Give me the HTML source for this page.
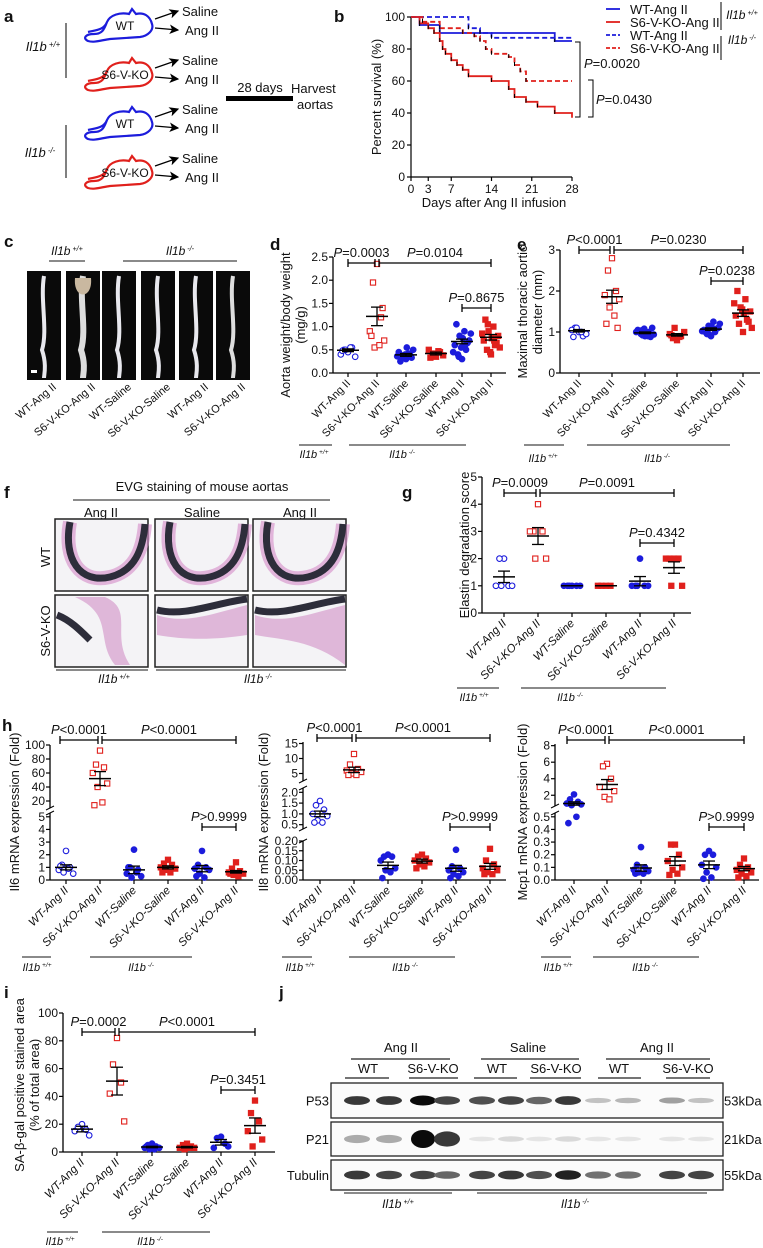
<!DOCTYPE html>
<html><head><meta charset="utf-8">
<style>
html,body{margin:0;padding:0;background:#fff;}
svg{display:block;font-family:"Liberation Sans",Arial,sans-serif;}
text{fill:#111;}
</style></head>
<body>
<svg id="fig" width="763" height="1248" viewBox="0 0 763 1248" xmlns="http://www.w3.org/2000/svg">
<defs>
<marker id="arr" markerWidth="8" markerHeight="8" refX="7" refY="4" orient="auto"><path d="M0,0 L8,4 L0,8 L2,4 Z" fill="#000"/></marker>
</defs>
</svg>
<script>
// ---------- survival data (panel b) ----------
const survDays = {
  wtP: [0,1.5,5,25,28], s6P: [0,1.5,3,4,5,5.5,6,7,8,9,10,14,17,18,20,22,25,28],
  wtK: [0,10,12,14,28], s6K: [0,2,5,9,11,12,13,14,17,18,19,20,28]
};
const survWtPlus = [100,95,90,85,85];
const survS6Plus = [100,96,93,90,85,80,77,73,70,67,63,60,55,50,47,44,40,37];
const survWtKo = [100,93,90,87,87];
const survS6Ko = [100,97,93,90,88,85,80,77,75,70,66,60,60];
const survXTicks = [0,3,7,14,21,28];
const survYTicks = [0,20,40,60,80,100];

// ---------- dot plot data ----------
const groupLabels = ["WT-Ang II","S6-V-KO-Ang II","WT-Saline","S6-V-KO-Saline","WT-Ang II","S6-V-KO-Ang II"];
const dVals = [[0.45,0.5,0.55,0.4,0.35,0.5,0.55,0.48],[2.35,1.95,1.2,0.9,0.7,0.55,0.6,0.8,1.4],[0.3,0.35,0.4,0.45,0.5,0.38,0.42,0.25,0.33,0.4,0.55,0.36],[0.35,0.4,0.45,0.5,0.38,0.42,0.47,0.33],[0.3,0.4,0.5,0.6,0.7,0.8,0.9,1.05,0.65,0.55,0.75,0.45,0.85,0.35,0.6],[0.4,0.5,0.6,0.7,0.8,0.9,1.0,1.15,0.65,0.45,0.75,0.85,0.55,1.05,0.7]];
const dMean = [0.49,1.22,0.39,0.42,0.68,0.77];
const dSem = [0.03,0.2,0.03,0.03,0.05,0.06];
const dTicks = [0,0.5,1.0,1.5,2.0,2.5];
const eVals = [[1.0,1.1,0.9,1.05,0.95,1.1,1.0,0.88],[2.8,2.5,2.0,1.9,1.8,1.6,1.4,1.2,1.1],[0.9,0.95,1.0,1.05,1.1,0.92,0.98,1.02,0.88,1.08,0.96,1.0,0.94,1.04,0.9],[0.8,0.85,0.9,0.95,1.0,1.1,0.88,0.92],[0.9,0.95,1.0,1.05,1.1,1.15,1.25,1.0,1.08,0.92,1.12,1.02,1.2,0.98],[1.0,1.2,1.3,1.4,1.5,1.6,1.8,2.0,1.25,1.55,1.45,1.7,1.1]];
const eMean = [1.03,1.86,0.98,0.93,1.07,1.46];
const eSem = [0.03,0.16,0.02,0.03,0.03,0.08];
const eTicks = [0,1,2,3];
const gVals = [[2,2,1,1,1,1],[4,3,3,3,2,2],[1,1,1,1,1,1],[1,1,1,1],[2,1,1,1,1,1],[2,2,2,2,1,1]];
const gMean = [1.33,2.83,1,1,1.17,1.67];
const gSem = [0.21,0.31,0,0,0.17,0.21];
const gTicks = [0,1,2,3,4,5];
const il6Vals = [[2.3,1.2,1,0.8,0.5,0.6,0.9,1.1],[92,72,68,60,45,40,18,14],[2.4,1,0.8,0.5,0.3,0.2,0.6,1.0],[1.6,1.3,1.2,1,0.9,0.8,0.6,0.6],[2.3,1.2,1,0.9,0.8,0.5,0.2,0.3],[1.4,0.9,0.7,0.6,0.5,0.4,0.3,0.5]];
const il6Mean = [1.0,52,0.8,1.0,0.9,0.65];
const il6Sem = [0.2,10,0.3,0.12,0.25,0.1];
const il6Ticks = [0,1,2,3,4,5,20,40,60,80,100];
const il8Vals = [[1.6,1.4,1.2,1.0,0.9,0.7,0.6,0.6],[11.5,8,6.5,6,5.5,5,4.5,4.5],[0.13,0.12,0.12,0.1,0.06,0.05,0.04,0.01],[0.13,0.12,0.11,0.1,0.09,0.08,0.07,0.06],[0.155,0.07,0.06,0.05,0.04,0.03,0.02,0.01],[0.16,0.1,0.08,0.06,0.05,0.04,0.03,0.03]];
const il8Mean = [1.0,6.2,0.075,0.097,0.06,0.07];
const il8Sem = [0.13,0.9,0.017,0.01,0.015,0.015];
const il8Ticks = [0,0.05,0.1,0.15,0.2,0.5,1.0,1.5,2.0,5,10,15];
const mcpVals = [[2.1,1.5,1.2,1.0,0.9,0.8,0.5,0.45],[5.8,5.5,4,3,2.5,1.8,1.5],[0.26,0.12,0.1,0.08,0.07,0.06,0.05,0.05],[0.28,0.28,0.2,0.15,0.1,0.08,0.05,0.04],[0.23,0.2,0.2,0.12,0.1,0.06,0.02,0.01],[0.17,0.12,0.1,0.08,0.06,0.05,0.03,0.02]];
const mcpMean = [1.0,3.3,0.095,0.15,0.12,0.09];
const mcpSem = [0.2,0.6,0.025,0.035,0.03,0.017];
const mcpTicks = [0,0.1,0.2,0.3,0.4,0.5,2,4,6,8];
const iVals = [[20,18,16,15,12],[82,63,50,42,22],[6,5,4,3,3,2,2,4],[6,5,4,3,3,2,3],[11,10,6,3,4],[37,28,22,15,9,4]];
const iMean = [16.5,51,3.6,3.5,7,19];
const iSem = [2,10,0.5,0.5,2,5.5];
const iTicks = [0,20,40,60,80,100];
// ---------- western blot intensities (panel j) ----------
const p53Int = [0.8,0.8,1,0.75,0.7,0.75,0.6,0.8,0.2,0.25,0.35,0.2];
const p21Int = [0.3,0.3,1,0.8,0.05,0.1,0.05,0.1,0.05,0.05,0.05,0.05];
const tubInt = [0.8,0.75,0.75,0.6,0.75,0.8,0.7,0.9,0.55,0.55,0.75,0.75];

const NS="http://www.w3.org/2000/svg";
const svg=document.getElementById('fig');
function mk(tag,attrs,parent,name,inter){
  const el=document.createElementNS(NS,tag);
  for(const k in attrs) el.setAttribute(k,attrs[k]);
  
  
  (parent||svg).appendChild(el);return el;
}
function txt(x,y,s,size,opt,name){
  opt=opt||{};
  const t=mk('text',{x:x,y:y,'font-size':size,'text-anchor':opt.anchor||'start'},opt.parent,name||'label');
  if(opt.italic) t.setAttribute('font-style','italic');
  if(opt.bold) t.setAttribute('font-weight','bold');
  if(opt.rot!==undefined) t.setAttribute('transform','rotate('+opt.rot+' '+x+' '+y+')');
  if(opt.fill) t.setAttribute('fill',opt.fill);
  t.textContent=s;return t;
}
function il1b(x,y,sup,size){
  const t=mk('text',{x:x,y:y,'font-size':size||12,'font-style':'italic','text-anchor':'middle'},svg,'genotype-label');
  t.textContent='Il1b';
  const s=document.createElementNS(NS,'tspan');s.setAttribute('font-size',(size||12)*0.6);s.setAttribute('dy',-4);s.textContent=' '+sup;t.appendChild(s);
}
function line(x1,y1,x2,y2,w,c,name,dash){
  const l=mk('line',{x1:x1,y1:y1,x2:x2,y2:y2,stroke:c||'#000','stroke-width':w||1},svg,name||'line');
  if(dash) l.setAttribute('stroke-dasharray',dash);return l;
}
function panelLetter(x,y,s){txt(x,y,s,17,{bold:true},'panel-letter-'+s);}

// ---------- panel a ----------
panelLetter(4,22,'a');
function mouse(x,y,col,label){
  const g=mk('g',{transform:'translate('+x+','+y+')'},svg,'mouse-'+label);
  mk('path',{d:'M72,14 C70,6 64,2 56,4 L52,-1 L49,4 C40,2 30,5 27,12 C24,20 22,24 14,24 C6,24 2,28 8,31 C14,33 22,30 30,29 L60,27 C68,26 74,20 72,14 Z M27,12 C24,20 16,20 8,22',fill:'none',stroke:col,'stroke-width':2.2},g,'mouse-outline');
  txt(45,20,label,12,{anchor:'middle',parent:g},'mouse-label');
}
const miceY=[10,59,108,157];
const miceCol=['#1c1cdc','#e0201c','#1c1cdc','#e0201c'];
const miceLab=['WT','S6-V-KO','WT','S6-V-KO'];
for(let i=0;i<4;i++){
  mouse(80,miceY[i],miceCol[i],miceLab[i]);
  const y=miceY[i];
  mk('line',{x1:155,y1:y+9,x2:178,y2:y+1,stroke:'#000','stroke-width':1.2,'marker-end':'url(#arr)'},svg,'arrow');
  mk('line',{x1:155,y1:y+18,x2:178,y2:y+20,stroke:'#000','stroke-width':1.2,'marker-end':'url(#arr)'},svg,'arrow');
  txt(182,y+6,'Saline',13,{},'treatment-label');
  txt(185,y+25,'Ang II',13,{},'treatment-label');
}
line(66,23,66,78,1,'#000','bracket-line');line(66,125,66,178,1,'#000','bracket-line');
il1b(43,51,'+/+',13);il1b(40,157,'-/-',13);
mk('rect',{x:226,y:96,width:67,height:5,fill:'#000'},svg,'timeline-bar');
txt(260,92,'28 days',13,{anchor:'middle'},'timeline-label');
txt(291,93,'Harvest',13,{},'harvest-label');txt(297,109,'aortas',13,{},'harvest-label');

// ---------- panel b ----------
panelLetter(334,22,'b');
const bX0=411,bX1=572,bY0=177,bY1=17;
const bx=d=>bX0+(bX1-bX0)*d/28, by=v=>bY0-(bY0-bY1)*v/100;
line(bX0,bY1,bX0,bY0,1.2);line(bX0,bY0,bX1,bY0,1.2);
survYTicks.forEach(v=>{line(bX0-4,by(v),bX0,by(v),1.2,'#000','y-tick');txt(bX0-6,by(v)+4,String(v),12,{anchor:'end'},'y-tick-label');});
survXTicks.forEach(v=>{line(bx(v),bY0,bx(v),bY0+4,1.2,'#000','x-tick');txt(bx(v),bY0+16,String(v),12,{anchor:'middle'},'x-tick-label');});
txt(381,97,'Percent survival (%)',13,{anchor:'middle',rot:-90},'y-axis-title');
txt(494,207,'Days after Ang II infusion',13,{anchor:'middle'},'x-axis-title');
function step(days,vals,col,dash,name){
  let d='M'+bx(days[0])+','+by(vals[0]);
  for(let i=1;i<days.length;i++){d+=' H'+bx(days[i])+' V'+by(vals[i]);}
  const p=mk('path',{d:d,fill:'none',stroke:col,'stroke-width':1.8},svg,name);
  if(dash)p.setAttribute('stroke-dasharray','5,3');
  for(let i=1;i<days.length-1;i++) line(bx(days[i]),by(vals[i])-3,bx(days[i]),by(vals[i])+1,1,'#000','censor-tick');
}
step(survDays.wtP,survWtPlus,'#1c1cdc',false,'survival-wt-plus');
step(survDays.s6P,survS6Plus,'#e0201c',false,'survival-s6-plus');
step(survDays.wtK,survWtKo,'#1c1cdc',true,'survival-wt-ko');
step(survDays.s6K,survS6Ko,'#e0201c',true,'survival-s6-ko');
mk('path',{d:'M575,42 H580 V117 H575',fill:'none',stroke:'#000'},svg,'pvalue-bracket');
mk('path',{d:'M588,80 H593 V117 H588',fill:'none',stroke:'#000'},svg,'pvalue-bracket');
const pt1=txt(584,68,'',13,{},'pvalue-label');pt1.innerHTML='<tspan font-style="italic">P</tspan>=0.0020';
const pt2=txt(596,104,'',13,{},'pvalue-label');pt2.innerHTML='<tspan font-style="italic">P</tspan>=0.0430';
const legItems=[['WT-Ang II','#1c1cdc',false],['S6-V-KO-Ang II','#e0201c',false],['WT-Ang II','#1c1cdc',true],['S6-V-KO-Ang II','#e0201c',true]];
legItems.forEach((it,i)=>{const y=9+i*13;
  const l=line(606,y,620,y,1.8,it[1],'legend-swatch',it[2]?'4,2':null);
  txt(630,y+5,it[0],13,{},'legend-entry');});
line(721,2,721,30,1);line(721,36,721,60,1);
il1b(742,19,'+/+',12);il1b(742,44,'-/-',12);

// ---------- panel c ----------
panelLetter(4,247,'c');
il1b(67,255,'+/+',12);line(49,261,85,261,1.3,'#444','group-line');
il1b(180,255,'-/-',12);line(123,261,237,261,1.3,'#444','group-line');
const photoX=[27,66,102,141,179,216];
const cLabels=['WT-Ang II','S6-V-KO-Ang II','WT-Saline','S6-V-KO-Saline','WT-Ang II','S6-V-KO-Ang II'];
photoX.forEach((x,i)=>{
  mk('rect',{x:x,y:271,width:34,height:109,fill:'#0a0a0a'},svg,'aorta-photo');
  const cx=x+17;const top=(i==1)?'M'+(cx-8)+',278 C'+(cx-10)+',300 '+(cx+10)+',300 '+(cx+8)+',278 Z':'';
  mk('path',{d:'M'+cx+',276 C'+(cx-4)+',300 '+(cx+4)+',330 '+(cx-2)+',350 C'+(cx+3)+',365 '+cx+',375 '+cx+',378',fill:'none',stroke:(i==1||i==5)?'#ddd':'#e8e8ee','stroke-width':(i==1)?6:4},svg,'aorta');
  if(top) mk('path',{d:top,fill:'#c9b8a0'},svg,'aorta-arch');
  txt(x+30,388,cLabels[i],11,{anchor:'end',rot:-40},'sample-label');
});
mk('rect',{x:31,y:370,width:6,height:3,fill:'#fff'},svg,'scale-bar');

// ---------- generic dot plot ----------
function dotPlot(cfg){
  const segs=cfg.segs;
  const Y=v=>{let s=segs[0];for(const sg of segs){if(v>=sg.lo&&v<=sg.hi){s=sg;break;} if(v>sg.hi) s=sg;}
    return s.y0-(v-s.lo)*(s.y0-s.y1)/(s.hi-s.lo);};
  const ax=cfg.ax;
  segs.forEach(s=>line(ax,s.y0,ax,s.y1,1.3,'#000','y-axis'));
  line(ax,segs[0].y0,cfg.axEnd,segs[0].y0,1.3,'#000','x-axis');
  cfg.ticks.forEach(v=>{const y=Y(v);line(ax-4,y,ax,y,1.2,'#000','y-tick');
    txt(ax-5,y+4,cfg.fmt(v),cfg.tsize||12,{anchor:'end'},'y-tick-label');});
  segs.forEach((s,i)=>{if(i>0){line(ax-4,s.y0+2,ax+4,s.y0-2,1,'#000','axis-break');}
    if(i<segs.length-1){line(ax-4,s.y1+2,ax+4,s.y1-2,1,'#000','axis-break');}});
  const offs=[0,-5,5,-9,9,-3,3,-7,7,-1,1,-11,11,-4,4];
  cfg.cats.forEach((cx,g)=>{
    line(cx,segs[0].y0,cx,segs[0].y0+4,1.2,'#000','x-tick');
    const col=(g%2==0)?'#1c1cdc':'#e0201c';
    const filled=cfg.filled[g];
    cfg.vals[g].forEach((v,k)=>{
      const x=cx+offs[k%offs.length]*cfg.jit,y=Y(v);
      if(g%2==0) mk('circle',{cx:x,cy:y,r:2.8,fill:filled?col:'#fff',stroke:col,'stroke-width':1.1},svg,'data-point');
      else mk('rect',{x:x-2.6,y:y-2.6,width:5.2,height:5.2,fill:filled?col:'#fff',stroke:col,'stroke-width':1.1},svg,'data-point');
    });
    const m=cfg.mean[g],s=cfg.sem[g];
    line(cx-11,Y(m),cx+11,Y(m),1.5,'#000','mean-line');
    line(cx,Y(m+s),cx,Y(Math.max(m-s,0.0001)),1.3,'#000','sem-bar');
    line(cx-6,Y(m+s),cx+6,Y(m+s),1.3,'#000','sem-cap');
    line(cx-6,Y(Math.max(m-s,0.0001)),cx+6,Y(Math.max(m-s,0.0001)),1.3,'#000','sem-cap');
    txt(cx+3,segs[0].y0+11,groupLabels[g],cfg.lsize||11.5,{anchor:'end',rot:-45,italic:cfg.italic},'category-label');
  });
  cfg.brackets.forEach(b=>{const x1=cfg.cats[b[0]]+b[4],x2=cfg.cats[b[1]]+b[5],y=b[2];
    line(x1,y,x2,y,1.3,'#000','pvalue-bracket');line(x1,y-4,x1,y+4,1.3);line(x2,y-4,x2,y+4,1.3);
    const t=txt((x1+x2)/2,y-6,'',13,{anchor:'middle'},'pvalue-label');t.innerHTML='<tspan font-style="italic">P</tspan>'+b[3];});
  txt(cfg.titleX,cfg.titleY,cfg.title,13,{anchor:'middle',rot:-90},'y-axis-title');
  if(cfg.title2) txt(cfg.titleX+15,cfg.titleY,cfg.title2,13,{anchor:'middle',rot:-90},'y-axis-title');
}
const f1=v=>v.toFixed(1), f0=v=>String(v), f2=v=>v.toFixed(2);
// d
panelLetter(270,250,'d');
dotPlot({ax:333,axEnd:506,segs:[{lo:0,hi:2.5,y0:373,y1:257}],ticks:dTicks,fmt:f1,cats:[348,377,406,436,462,491],
  vals:dVals,mean:dMean,sem:dSem,filled:[0,0,1,1,1,1],jit:0.8,
  brackets:[[0,1,263,'=0.0003',0,-2],[1,5,263,'=0.0104',2,0],[4,5,308,'=0.8675',0,0]],
  title:'Aorta weight/body weight',title2:'(mg/g)',titleX:290,titleY:325,italic:false,lsize:11});
// e
panelLetter(517,250,'e');
dotPlot({ax:560,axEnd:760,segs:[{lo:0,hi:3,y0:373,y1:250}],ticks:eTicks,fmt:f0,cats:[579,612,645,677,711,743],
  vals:eVals,mean:eMean,sem:eSem,filled:[0,0,1,1,1,1],jit:0.8,
  brackets:[[0,1,250,'<0.0001',0,-2],[1,5,250,'=0.0230',2,0],[4,5,281,'=0.0238',0,0]],
  title:'Maximal thoracic aortic',title2:'diameter (mm)',titleX:527,titleY:312,italic:false,lsize:11});
line(299,445,332,445,1.3,'#444');line(349,445,466,445,1.3,'#444');il1b(314,458,'+/+',11);il1b(402,458,'-/-',11);
line(524,445,564,445,1.3,'#444');line(587,445,730,445,1.3,'#444');il1b(543,462,'+/+',11);il1b(657,462,'-/-',11);

// ---------- panel f ----------
panelLetter(4,498,'f');
txt(202,491,'EVG staining of mouse aortas',13,{anchor:'middle'},'image-title');
line(73,500,330,500,1.3,'#444');
['Ang II','Saline','Ang II'].forEach((s,i)=>txt([101,202,300][i],517,s,13,{anchor:'middle'},'column-header'));
const fx=[55,155,253], fy=[519,595];
for(let r=0;r<2;r++)for(let c=0;c<3;c++){
  const x=fx[c],y=fy[r];
  mk('rect',{x:x,y:y,width:93,height:72,fill:'#f4f3f6',stroke:'#222','stroke-width':1.5},svg,'histology-image');
  let d;
  if(r==0) d='M'+(x+15)+','+(y+3)+' C'+(x+8)+','+(y+40)+' '+(x+25)+','+(y+65)+' '+(x+55)+','+(y+58)+' C'+(x+80)+','+(y+52)+' '+(x+88)+','+(y+30)+' '+(x+90)+','+(y+5);
  else if(c==0) d='M'+(x+2)+','+(y+20)+' C'+(x+15)+','+(y+25)+' '+(x+25)+','+(y+35)+' '+(x+35)+','+(y+45);
  else d='M'+(x+2)+','+(y+15)+' C'+(x+30)+','+(y+22)+' '+(x+60)+','+(y+8)+' '+(x+92)+','+(y+4);
  if(r==1) mk('path',{d:(c==0?'M'+(x+20)+','+(y+2)+' C'+(x+60)+','+(y+20)+' '+(x+40)+','+(y+45)+' '+(x+60)+','+(y+70)+' L'+(x+75)+','+(y+70)+' C'+(x+55)+','+(y+40)+' '+(x+80)+','+(y+15)+' '+(x+50)+','+(y+2)+' Z':'M'+(x+2)+','+(y+20)+' C'+(x+30)+','+(y+30)+' '+(x+60)+','+(y+18)+' '+(x+92)+','+(y+10)+' L'+(x+92)+','+(y+(c==2?70:40))+' C'+(x+60)+','+(y+45)+' '+(x+30)+','+(y+45)+' '+(x+2)+','+(y+40)+' Z'),fill:'#d9a8d2',opacity:0.8},svg,'tissue');
  else mk('path',{d:d,fill:'none',stroke:'#d48bc8','stroke-width':14,opacity:0.6},svg,'tissue');
  mk('path',{d:d,fill:'none',stroke:'#2d2d3a','stroke-width':7},svg,'elastin-band');
}
txt(50,557,'WT',13,{anchor:'middle',rot:-90},'row-label');txt(50,631,'S6-V-KO',13,{anchor:'middle',rot:-90},'row-label');
line(56,670,148,670,1.3,'#444');line(156,670,346,670,1.3,'#444');il1b(114,683,'+/+',12);il1b(258,683,'-/-',12);

// ---------- panel g ----------
panelLetter(402,498,'g');
dotPlot({ax:482,axEnd:691,segs:[{lo:0,hi:5,y0:613,y1:477}],ticks:gTicks,fmt:f0,cats:[504,538,572,606,640,674],
  vals:gVals,mean:gMean,sem:gSem,filled:[0,0,1,1,1,1],jit:0.9,
  brackets:[[0,1,493,'=0.0009',0,-2],[1,5,493,'=0.0091',2,0],[4,5,543,'=0.4342',0,0]],
  title:'Elastin degradation score',titleX:469,titleY:545,italic:true,lsize:11.5});
line(457,688,499,688,1.3,'#444');line(521,688,666,688,1.3,'#444');il1b(474,701,'+/+',11);il1b(570,701,'-/-',11);

// ---------- panel h ----------
panelLetter(2,731,'h');
dotPlot({ax:50,axEnd:253,segs:[{lo:0,hi:5.3,y0:880,y1:813},{lo:10,hi:100,y0:808,y1:745}],ticks:il6Ticks,fmt:f0,cats:[66,100,134,168,202,236],
  vals:il6Vals,mean:il6Mean,sem:il6Sem,filled:[0,0,1,1,1,1],jit:0.8,
  brackets:[[0,1,740,'<0.0001',-6,-2],[1,5,740,'<0.0001',2,0],[4,5,827,'>0.9999',0,0]],
  title:'Il6 mRNA expression (Fold)',titleX:19,titleY:812,italic:true,lsize:11.5});
dotPlot({ax:303,axEnd:506,segs:[{lo:0,hi:0.2,y0:880,y1:841},{lo:0.3,hi:2.2,y0:829,y1:788},{lo:2.5,hi:15.5,y0:781,y1:742}],ticks:il8Ticks,fmt:v=>v<0.3?f2(v):(v<3?f1(v):f0(v)),cats:[320,354,388,422,456,490],
  vals:il8Vals,mean:il8Mean,sem:il8Sem,filled:[0,0,1,1,1,1],jit:0.8,
  brackets:[[0,1,738,'<0.0001',-3,-2],[1,5,738,'<0.0001',2,0],[4,5,827,'>0.9999',-6,0]],
  title:'Il8 mRNA expression (Fold)',titleX:268,titleY:812,italic:true,lsize:11.5});
dotPlot({ax:555,axEnd:759,segs:[{lo:0,hi:0.53,y0:880,y1:813},{lo:0.7,hi:8.2,y0:806,y1:744}],ticks:mcpTicks,fmt:v=>v<1?f1(v):f0(v),cats:[574,607,641,675,709,744],
  vals:mcpVals,mean:mcpMean,sem:mcpSem,filled:[1,0,1,1,1,1],jit:0.8,
  brackets:[[0,1,740,'<0.0001',-7,-2],[1,5,740,'<0.0001',2,0],[4,5,827,'>0.9999',0,0]],
  title:'Mcp1 mRNA expression (Fold)',titleX:527,titleY:812,italic:true,lsize:11.5});
[[22,51,90,192,37,141],[282,312,349,455,300,405],[541,571,593,699,558,645]].forEach(a=>{
  line(a[0],957,a[1],957,1.3,'#444');line(a[2],957,a[3],957,1.3,'#444');il1b(a[4],971,'+/+',11);il1b(a[5],971,'-/-',11);});

// ---------- panel i ----------
panelLetter(4,998,'i');
dotPlot({ax:63,axEnd:275,segs:[{lo:0,hi:100,y0:1152,y1:1013}],ticks:iTicks,fmt:f0,cats:[82,117,152,187,221,255],
  vals:iVals,mean:iMean,sem:iSem,filled:[0,0,1,1,1,1],jit:0.8,
  brackets:[[0,1,1032,'=0.0002',0,-2],[1,5,1032,'<0.0001',2,0],[4,5,1090,'=0.3451',0,0]],
  title:'SA-β-gal positive stained area',title2:'(% of total area)',titleX:24,titleY:1085,italic:true,lsize:11.5});
line(47,1232,78,1232,1.3,'#444');line(102,1232,210,1232,1.3,'#444');il1b(60,1245,'+/+',11);il1b(150,1245,'-/-',11);

// ---------- panel j ----------
panelLetter(279,998,'j');
[['Ang II',401,351,450],['Saline',528,481,579],['Ang II',657,606,710]].forEach(h=>{txt(h[1],1052,h[0],13,{anchor:'middle'},'condition-header');line(h[2],1059,h[3],1059,1.3,'#222');});
[['WT',368,345,389],['S6-V-KO',433,409,458],['WT',497,474,517],['S6-V-KO',556,530,581],['WT',619,598,641],['S6-V-KO',688,666,710]].forEach(h=>{txt(h[1],1073,h[0],13,{anchor:'middle'},'genotype-header');line(h[2],1078,h[3],1078,1.3,'#222');});
const laneX=[357,389,423,447,482,511,539,568,598,628,672,701];
function blot(y,h,ints,lab,kda,big){
  mk('rect',{x:331,y:y,width:392,height:h,fill:'#fbfbfb',stroke:'#222','stroke-width':1.3},svg,'blot-'+lab);
  ints.forEach((v,i)=>{const g=Math.round(240-v*230);
    mk('ellipse',{cx:laneX[i],cy:y+h/2,rx:big&&v>0.9?12:13,ry:big?(2+v*7):(2+v*3),fill:'rgb('+g+','+g+','+g+')'},svg,'band');});
  txt(329,y+h/2+5,lab,13,{anchor:'end'},'protein-label');txt(724,y+h/2+5,kda,13,{},'kda-label');
}
blot(1083,35,p53Int,'P53','53kDa',false);
blot(1122,34,p21Int,'P21','21kDa',true);
blot(1160,30,tubInt,'Tubulin','55kDa',false);
line(344,1193,452,1193,1.3,'#444');line(477,1193,707,1193,1.3,'#444');il1b(398,1208,'+/+',12);il1b(575,1208,'-/-',12);
</script>
</body></html>
